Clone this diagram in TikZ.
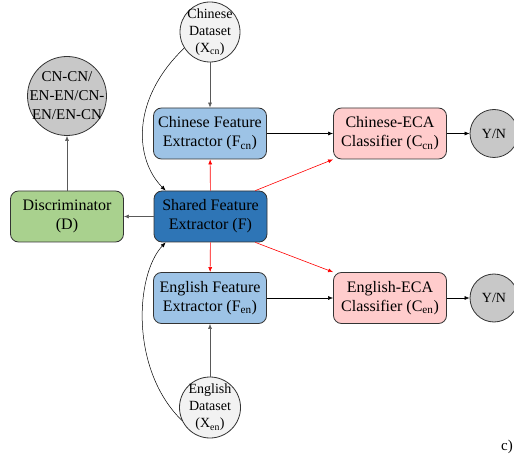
\documentclass[tikz,border=0pt]{standalone}
\usepackage{fontspec}
\setmainfont{Liberation Serif}
\usetikzlibrary{arrows.meta}
\definecolor{lblue}{HTML}{9DC3E6}
\definecolor{dblue}{HTML}{2E75B6}
\definecolor{lgreen}{HTML}{A9D18E}
\definecolor{lpink}{HTML}{FFCCCC}
\definecolor{lgray}{HTML}{F2F2F2}
\definecolor{mgray}{HTML}{C8C8C8}
\definecolor{edgec}{HTML}{333333}
\definecolor{lineg}{HTML}{595959}
\begin{document}
\begin{tikzpicture}[x=1pt,y=-1pt,
  box/.style={draw=edgec, line width=0.8pt, rounded corners=8pt, minimum width=113pt, minimum height=51pt, align=center, inner sep=2pt, font=\fontsize{16}{19}\selectfont},
  ring/.style={draw=edgec, line width=0.8pt, circle, inner sep=0pt},
  ringtext/.style={align=center, inner sep=0pt},
  arr/.style={-{Latex[length=5pt,width=4pt]}, line width=0.6pt},
  redarr/.style={arr, draw=red},
]
\useasboundingbox (0,0) rectangle (514,462);

% boxes
\node[box, fill=lblue] (cfe) at (210,133.5) {Chinese Feature\\Extractor (F\textsubscript{cn})};
\node[box, fill=dblue] (sh) at (210.5,216.5) {Shared Feature\\Extractor (F)};
\node[box, fill=lblue] (efe) at (210,298) {English Feature\\Extractor (F\textsubscript{en})};
\node[box, fill=lgreen] (disc) at (67,216.5) {Discriminator\\(D)};
\node[box, fill=lpink] (ceca) at (390,133.5) {Chinese-ECA\\Classifier (C\textsubscript{cn})};
\node[box, fill=lpink] (eeca) at (390,298) {English-ECA\\Classifier (C\textsubscript{en})};

% circles
\node[ring, fill=lgray, minimum size=60pt] (cd) at (210,32) {};
\node[ringtext, font=\fontsize{14}{17}\selectfont] (cdt) at (cd) {Chinese\\Dataset\\(X\textsubscript{cn})};
\node[ring, fill=lgray, minimum size=61pt] (ed) at (210,407.5) {};
\node[ringtext, font=\fontsize{14}{17}\selectfont] (edt) at (ed) {English\\Dataset\\(X\textsubscript{en})};
\node[ring, fill=mgray, minimum size=79pt] (out) at (67,96) {};
\node[ringtext, font=\fontsize{15}{19}\selectfont] (outt) at (out) {CN-CN/\\EN-EN/CN-\\EN/EN-CN};
\node[ring, fill=mgray, minimum size=48pt, font=\fontsize{14}{16}\selectfont] (yn1) at (494,133.5) {Y/N};
\node[ring, fill=mgray, minimum size=48pt, font=\fontsize{14}{16}\selectfont] (yn2) at (494,298) {Y/N};

\node[font=\fontsize{15}{18}\selectfont, inner sep=0pt] (lab) at (507,447) {c)};

% connectors
\draw[arr, lineg] (cd) -- (cfe);
\draw[arr, lineg] (ed) -- (efe);
\draw[arr] (cfe) -- (ceca);
\draw[arr] (efe) -- (eeca);
\draw[arr] (ceca) -- (yn1);
\draw[arr] (eeca) -- (yn2);
\draw[arr, lineg] (sh) -- (disc);
\draw[arr, lineg] (disc) -- (out);
\draw[redarr] (sh) -- (cfe);
\draw[redarr] (sh) -- (efe);
\draw[redarr] (sh.30) -- (ceca.south west);
\draw[redarr] (sh.-30) -- (eeca.north west);
\draw[arr, line width=0.5pt] (cd.212) .. controls (130,100) and (135,160) .. (sh.150);
\draw[arr, line width=0.5pt] (ed.205) .. controls (130,370) and (135,275) .. (sh.-150);
\end{tikzpicture}
\end{document}
